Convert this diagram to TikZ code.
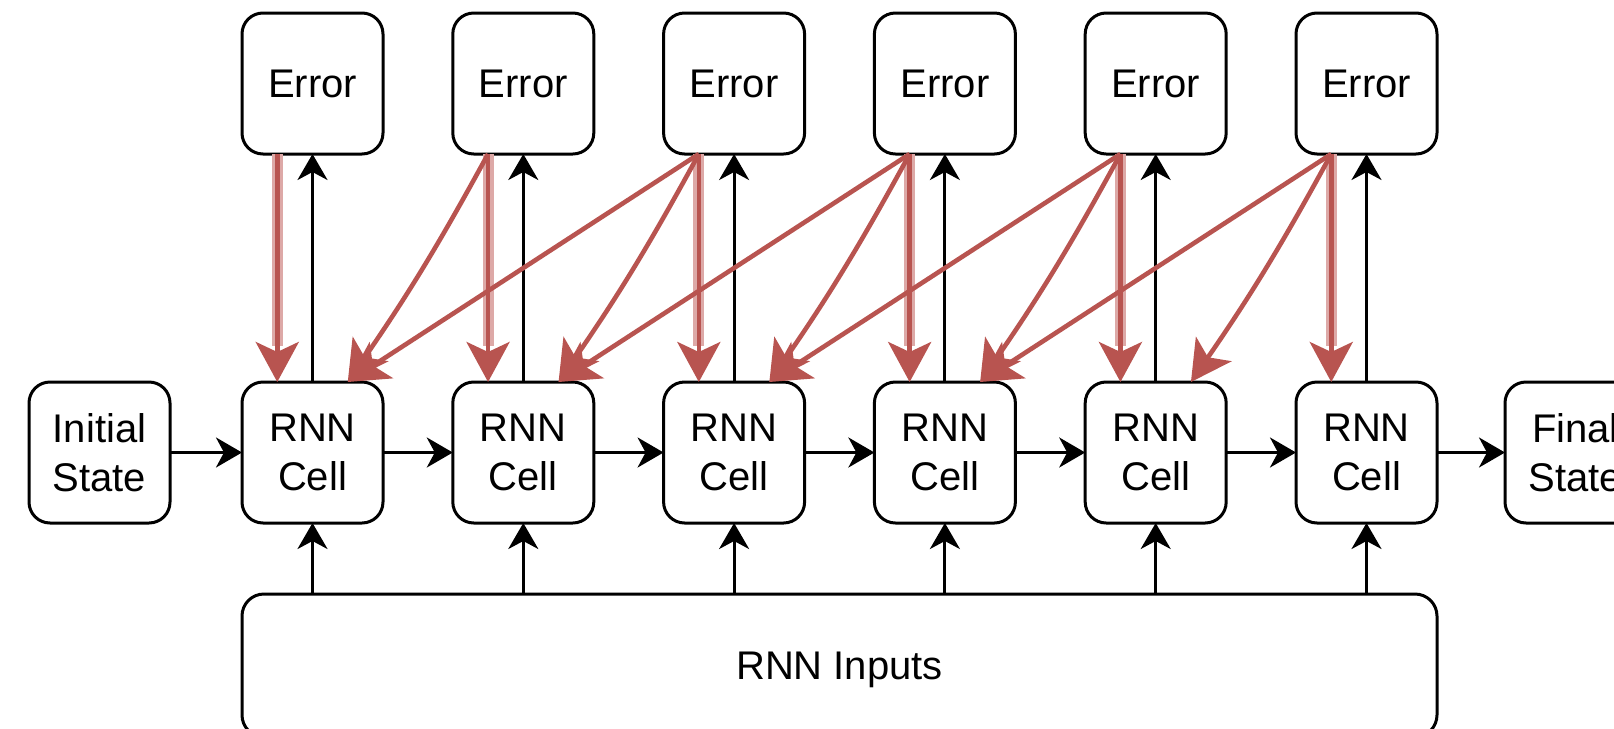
\documentclass[tikz,border=0pt]{standalone}
\usepackage{fontspec}
\setmainfont{Liberation Sans}
\usetikzlibrary{arrows.meta,calc}

\definecolor{errred}{HTML}{B85450}
\definecolor{errhalo}{HTML}{DDA9A7}

\begin{document}
\begin{tikzpicture}[x=0.5pt,y=-0.5pt,
  box/.style={draw, line width=1.5pt, rounded corners=10.5pt,
    minimum width=70.5pt, minimum height=70.5pt, inner sep=0pt, outer sep=0pt,
    align=center, font=\fontsize{20pt}{24.5pt}\selectfont},
  flow/.style={line width=1.5pt, -{Stealth[length=13pt,width=15pt,inset=4pt]}},
  back/.style={line width=2.3pt, draw=errred, color=errred,
    -{Stealth[length=20pt,width=21.5pt,inset=5pt]}},
  halo/.style={line width=5.5pt, draw=errhalo, shorten >=18pt},
]
\useasboundingbox (0,0) rectangle (1614,729);
\clip (0,0) rectangle (1614,729);

% error blocks above, RNN cells below
\foreach \k in {1,...,6} {
  \pgfmathsetmacro\cx{242+210.8*(\k-1)+70.5}
  \node[box] (e\k) at (\cx,83.5) {Error};
  \node[box] (c\k) at (\cx,452.5) {RNN\\Cell};
}
\node[box] (init) at (99.5,452.5) {Initial\\State};
\node[box] (final) at (1575.5,452.5) {Final\\State};
\node[box, minimum width=597.5pt, minimum height=71.5pt, rounded corners=11pt,
  text depth=0pt] (in) at (839.5,665.5) {RNN Inputs};

% forward chain
\draw[flow] (init) -- (c1);
\foreach \k [count=\j from 2] in {1,...,5} {
  \draw[flow] (c\k) -- (c\j);
}
\draw[flow] (c6) -- (final);

% outputs to errors, inputs to cells
\foreach \k in {1,...,6} {
  \draw[flow] (c\k) -- (e\k);
  \draw[flow] (in.north -| c\k) -- (c\k.south);
}

% attachment points for the error signals
\foreach \k in {1,...,6} {
  \coordinate (eq\k) at ($(e\k.south west)!0.25!(e\k.south east)$);
  \coordinate (cq\k) at ($(c\k.north west)!0.25!(c\k.north east)$);
  \coordinate (ct\k) at ($(c\k.north west)!0.75!(c\k.north east)$);
}

% error signals flowing back through time
\foreach \k in {1,...,6} {
  \draw[halo] (eq\k) -- (cq\k);
  \draw[back] (eq\k) -- (cq\k);
}
\foreach \k in {2,...,6} {
  \pgfmathtruncatemacro\km{\k-1}
  \draw[back] (eq\k) to[bend left=3] (ct\km);
}
\foreach \k in {3,...,6} {
  \pgfmathtruncatemacro\kmm{\k-2}
  \draw[back] (eq\k) -- (ct\kmm);
}
\end{tikzpicture}
\end{document}
